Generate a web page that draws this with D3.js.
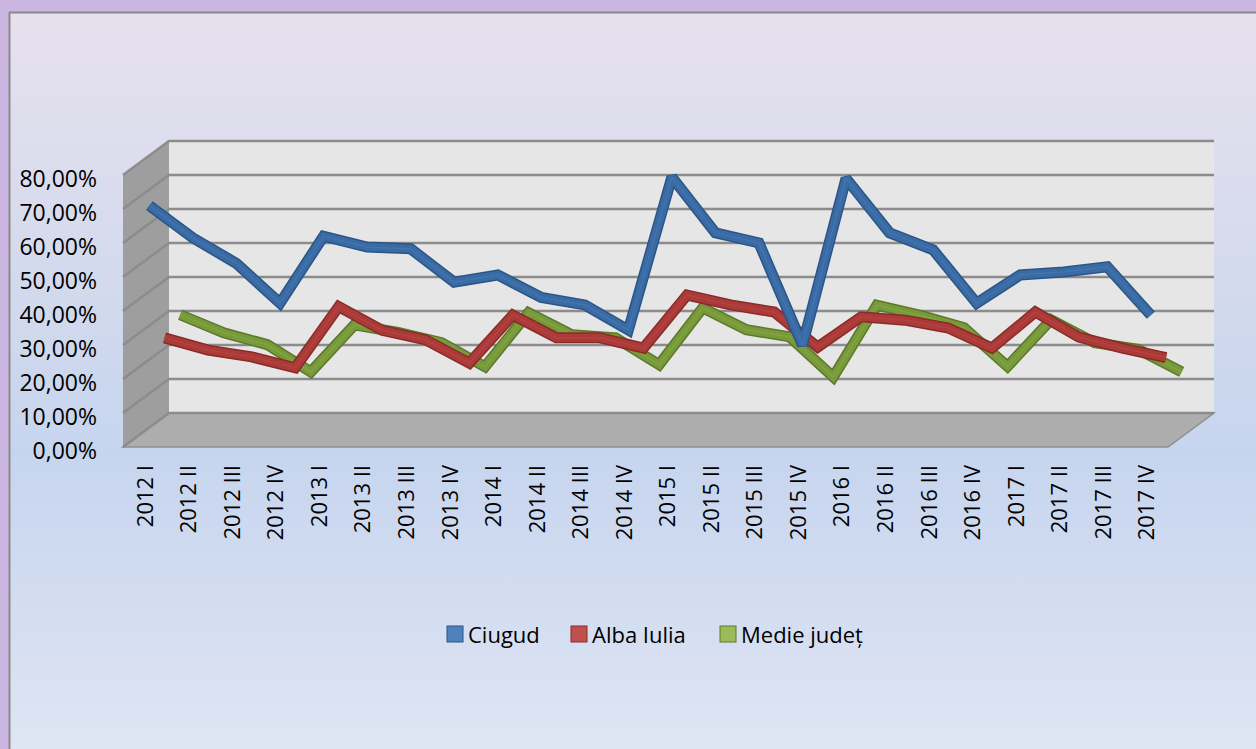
<!DOCTYPE html>
<html>
<head>
<meta charset="utf-8">
<script src="https://cdn.jsdelivr.net/npm/d3@7"></script>
<style>
  body { margin: 0; background: #fff; }
  svg { display: block; font-family: "Open Sans", sans-serif; }
</style>
</head>
<body>
<div id="chart"></div>
<script>
const width = 1256;
const height = 749;

const categories = [
  "2012 I", "2012 II", "2012 III", "2012 IV",
  "2013 I", "2013 II", "2013 III", "2013 IV",
  "2014 I", "2014 II", "2014 III", "2014 IV",
  "2015 I", "2015 II", "2015 III", "2015 IV",
  "2016 I", "2016 II", "2016 III", "2016 IV",
  "2017 I", "2017 II", "2017 III", "2017 IV"
];
const ciugud = [70, 60.5, 53, 41.3, 61, 57.8, 57.3, 47.5, 49.6, 43, 40.8, 33.4,
  78.4, 62, 59, 29, 78, 62, 57, 41.3, 49.6, 50.5, 52, 37.8];
const albaIulia = [27.8, 24.2, 22.2, 19, 37, 30, 27.2, 20.4, 34.5, 27.8, 27.8, 24.8,
  40.4, 37.5, 35.4, 25.1, 34, 33, 30.7, 24.8, 35.4, 28, 24.8, 22];
const medieJudet = [31.2, 25.9, 22.4, 14.4, 28.2, 26, 23, 15.9, 31.8, 25.3, 24.4, 16.5,
  33.2, 26.8, 24.7, 12.9, 34, 31, 27.4, 16, 29.7, 23, 21, 14.4];
const yTicks = [0, 10, 20, 30, 40, 50, 60, 70, 80];

const seriesNames = ["Ciugud", "Alba Iulia", "Medie județ"];
const seriesValues = [ciugud, albaIulia, medieJudet];

// colours: legend swatch, ribbon body, ribbon edge, ribbon highlight
const colors = [
  { legend: "#4f81bd", body: "#3a6ba4", edge: "#2a5687", light: "#4a7db8" },
  { legend: "#c0504d", body: "#ab3b38", edge: "#8a2b29", light: "#be4a47" },
  { legend: "#9bbb59", body: "#789a3a", edge: "#5b782b", light: "#8aad49" }
];
const depthCenters = [0.1, 0.43, 0.77];

// 3D box geometry
const depthDx = 46;
const depthDy = -34;

const svg = d3
  .select("#chart")
  .append("svg")
  .attr("width", width)
  .attr("height", height);

const defs = svg.append("defs");
const bg = defs.append("linearGradient")
  .attr("id", "bg")
  .attr("x1", 0).attr("y1", 0).attr("x2", 0).attr("y2", 1);
bg.append("stop").attr("offset", "0%").attr("stop-color", "#e7e1ed");
bg.append("stop").attr("offset", "60%").attr("stop-color", "#c6d5ee");
bg.append("stop").attr("offset", "100%").attr("stop-color", "#dfe5f3");

// outer frame
svg.append("rect").attr("width", width).attr("height", height).attr("fill", "#cab6e0");
svg.append("rect")
  .attr("x", 10).attr("y", 12)
  .attr("width", width - 10).attr("height", height - 12)
  .attr("fill", "url(#bg)");
svg.append("line").attr("x1", 9).attr("x2", width).attr("y1", 12.5).attr("y2", 12.5)
  .attr("stroke", "#8a8a8a").attr("stroke-width", 2);
svg.append("line").attr("x1", 9.5).attr("x2", 9.5).attr("y1", 12).attr("y2", height)
  .attr("stroke", "#8a8a8a").attr("stroke-width", 2);

const x = d3.scaleBand().domain(categories).range([123, 1168]);
const y = d3.scaleLinear().domain([0, 80]).range([447, 175]);

function proj(cat, v, f) {
  return [x(cat) + x.bandwidth() / 2 + depthDx * f, y(v) + depthDy * f];
}

const x0 = 123, x1 = 1168;
const box = svg.append("g");

// back wall
box.append("rect")
  .attr("x", x0 + depthDx).attr("y", y(80) + depthDy)
  .attr("width", x1 - x0).attr("height", y(0) - y(80))
  .attr("fill", "#e6e6e6");
// left wall
box.append("polygon")
  .attr("points", [[x0, y(0)], [x0, y(80)], [x0 + depthDx, y(80) + depthDy], [x0 + depthDx, y(0) + depthDy]].join(" "))
  .attr("fill", "#9e9e9e");
// floor
box.append("polygon")
  .attr("points", [[x0, y(0)], [x1, y(0)], [x1 + depthDx, y(0) + depthDy], [x0 + depthDx, y(0) + depthDy]].join(" "))
  .attr("fill", "#adadad")
  .attr("stroke", "#8f8f8f")
  .attr("stroke-width", 1.5);

// gridlines on back and left walls
box.selectAll(".grid")
  .data(yTicks)
  .enter()
  .append("polyline")
  .attr("points", (d) => [[x0, y(d)], [x0 + depthDx, y(d) + depthDy], [x1 + depthDx, y(d) + depthDy]].join(" "))
  .attr("fill", "none")
  .attr("stroke", "#8c8c8c")
  .attr("stroke-width", 2.5);

// y axis labels
svg.append("g")
  .selectAll("text")
  .data(yTicks)
  .enter()
  .append("text")
  .attr("x", 97)
  .attr("y", (d) => y(d) + 3)
  .attr("text-anchor", "end")
  .attr("dominant-baseline", "central")
  .attr("font-size", 23)
  .attr("fill", "#000")
  .text((d) => d3.format(".2f")(d).replace(".", ",") + "%");

// x axis labels
svg.append("g")
  .selectAll("text")
  .data(categories)
  .enter()
  .append("text")
  .attr("transform", (d) => `translate(${x(d) + x.bandwidth() / 2 - 1},465) rotate(-90)`)
  .attr("text-anchor", "end")
  .attr("dominant-baseline", "central")
  .attr("font-size", 22)
  .attr("fill", "#000")
  .text((d) => d);

// ribbons, drawn back to front
const ribbons = svg.append("g");
[2, 1, 0].forEach((s) => {
  const vals = seriesValues[s];
  const c = colors[s];
  const line = d3.line()
    .x((d, i) => proj(categories[i], d, depthCenters[s])[0])
    .y((d, i) => proj(categories[i], d, depthCenters[s])[1]);
  const g = ribbons.append("g")
    .attr("fill", "none")
    .attr("stroke-linejoin", "miter")
    .attr("stroke-miterlimit", 2);
  g.append("path").attr("d", line(vals)).attr("stroke", c.edge).attr("stroke-width", 11);
  g.append("path").attr("d", line(vals)).attr("stroke", c.body).attr("stroke-width", 8);
  g.append("path").attr("d", line(vals)).attr("stroke", c.light).attr("stroke-width", 1.2)
    .attr("stroke-opacity", 0.6);
});

// legend
const legendItems = [
  { name: seriesNames[0], x: 447 },
  { name: seriesNames[1], x: 571 },
  { name: seriesNames[2], x: 720 }
];
const legend = svg.append("g");
legendItems.forEach((item, i) => {
  legend.append("rect")
    .attr("x", item.x).attr("y", 626)
    .attr("width", 16).attr("height", 16)
    .attr("fill", colors[i].legend)
    .attr("stroke", colors[i].edge)
    .attr("stroke-width", 1);
  legend.append("text")
    .attr("x", item.x + 21)
    .attr("y", 634)
    .attr("dominant-baseline", "central")
    .attr("font-size", 22)
    .attr("fill", "#000")
    .text(item.name);
});
</script>
</body>
</html>
